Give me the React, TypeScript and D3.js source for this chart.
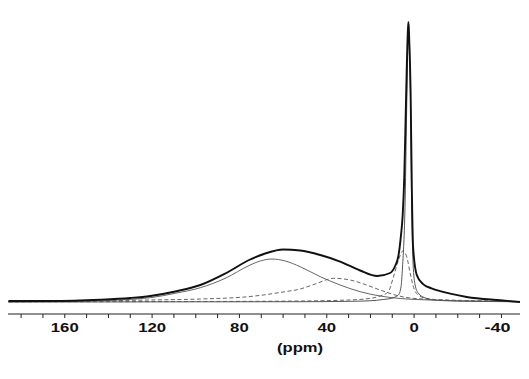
import React from "react";
import * as d3 from "d3";

// ppm positions and intensities (arbitrary units, main peak = 100)
const envPpm = [185.8, 166.6, 143.7, 130.0, 120.8, 109.4, 97.9, 86.5, 75.1, 68.2, 60.0, 52.2, 43.0, 33.9, 24.7, 16.9, 11.0, 8.7, 7.2, 6.1, 5.2, 4.5, 3.7, 2.9, 2.6, 2.2, 1.6, 1.05, 0.46, -1.24, -4.1, -8.0, -11.9, -16.5, -24.1, -39.4, -48.5];
const envInt = [0.36, 0.36, 0.82, 1.43, 2.14, 3.75, 6.07, 10.18, 15.18, 17.32, 18.75, 18.39, 16.79, 14.46, 11.25, 9.29, 10.36, 12.86, 16.43, 23.2, 31.4, 44.6, 72.1, 96.1, 100, 92.9, 75, 41.1, 19.6, 9.6, 6.4, 4.9, 3.9, 3.0, 1.8, 0.6, 0];

const narrowPpm = [185.8, 52.2, 29.3, 20.1, 14.2, 10.5, 7.2, 6.0, 5.3, 4.1, 3.34, 2.56, 1.65, 1.14, 0.46, -0.46, -1.97, -4.58, -7.32, -14.2, -25.6, -48.5];
const narrowInt = [0, 0.1, 0.25, 0.43, 0.89, 1.3, 2.5, 5.4, 12.5, 36.4, 72.1, 99.5, 72.1, 36.4, 13.6, 6.07, 3.11, 1.61, 0.89, 0.46, 0.25, 0.1];

const smallPpm = [185.8, 97.9, 52.2, 33.9, 22.4, 15.6, 11.9, 9.6, 7.3, 5.17, 3.34, 1.83, 0, -1.83, -4.58, -11.9, -25.6, -48.5];
const smallInt = [0.07, 0.18, 0.36, 0.61, 1.07, 2.14, 3.57, 8.57, 14.64, 18.21, 16.07, 10.36, 4.64, 2.5, 1.5, 0.71, 0.36, 0.14];

const broadAPpm = [185.8, 166.6, 143.7, 120.8, 109.4, 97.9, 86.5, 75.1, 70.5, 65.1, 59.0, 52.2, 43.0, 33.9, 24.7, 15.6, 6.4, -7.3, -25.6, -48.5];
const broadAInt = [0.07, 0.14, 0.46, 1.54, 3.11, 5.11, 8.46, 13.21, 14.64, 15.36, 14.64, 12.61, 9.04, 6.07, 3.68, 2.14, 1.25, 0.71, 0.36, 0.11];

const broadBPpm = [185.8, 143.7, 120.8, 97.9, 75.1, 60.0, 52.2, 45.3, 36.9, 29.3, 22.4, 15.6, 8.7, 1.83, -11.9, -30.2, -48.5];
const broadBInt = [0.11, 0.43, 0.71, 1.07, 1.96, 3.57, 4.64, 6.43, 8.46, 7.86, 6.25, 4.29, 2.5, 1.43, 0.82, 0.43, 0.14];

const tickValues = [180, 170, 160, 150, 140, 130, 120, 110, 100, 90, 80, 70, 60, 50, 40, 30, 20, 10, 0, -10, -20, -30, -40];
const labelValues = [160, 120, 80, 40, 0, -40];
const axisTitle = "(ppm)";

const W = 529;
const H = 379;

export default function App() {
  const x = d3.scaleLinear().domain([186, -48.5]).range([8, 520]);
  const y = d3.scaleLinear().domain([0, 100]).range([302, 22]);
  const axisY = 314;

  const mk = (p: number[], v: number[]) => {
    const pts: [number, number][] = p.map((pp, i) => [x(pp), y(v[i])]);
    return d3.line().curve(d3.curveMonotoneX)(pts) || "";
  };

  const font = "'Liberation Sans', Arial, sans-serif";
  const charW = 9.3;

  return (
    <svg width={W} height={H} style={{ position: "absolute", left: 0, top: 0, background: "#fff" }}>
      <path d={mk(broadAPpm, broadAInt)} fill="none" stroke="#666" strokeWidth={1} />
      <path d={mk(broadBPpm, broadBInt)} fill="none" stroke="#666" strokeWidth={1} strokeDasharray="4,2.5" />
      <path d={mk(smallPpm, smallInt)} fill="none" stroke="#666" strokeWidth={1} strokeDasharray="4,2.5" />
      <path d={mk(narrowPpm, narrowInt)} fill="none" stroke="#555" strokeWidth={1} />
      <path d={mk(envPpm, envInt)} fill="none" stroke="#111" strokeWidth={1.9} strokeLinejoin="round" />

      <line x1={x(186)} x2={x(-48.5)} y1={axisY} y2={axisY} stroke="#222" strokeWidth={1} />
      {tickValues.map((t) => (
        <line key={t} x1={x(t)} x2={x(t)} y1={axisY} y2={axisY + 4} stroke="#222" strokeWidth={1} />
      ))}
      {labelValues.map((t) => {
        const s = String(t);
        const len = s.startsWith("-") ? 26 : s.length * charW;
        return (
          <text
            key={t}
            x={x(t) - (s.startsWith("-") ? 4 : 0)}
            y={332}
            textAnchor="middle"
            fontFamily={font}
            fontWeight="bold"
            fontSize={12.5}
            textLength={len}
            lengthAdjust="spacingAndGlyphs"
            fill="#111"
          >
            {s}
          </text>
        );
      })}
      <text
        x={300}
        y={352}
        textAnchor="middle"
        fontFamily={font}
        fontWeight="bold"
        fontSize={13}
        textLength={46}
        lengthAdjust="spacingAndGlyphs"
        fill="#111"
      >
        {axisTitle}
      </text>
    </svg>
  );
}
